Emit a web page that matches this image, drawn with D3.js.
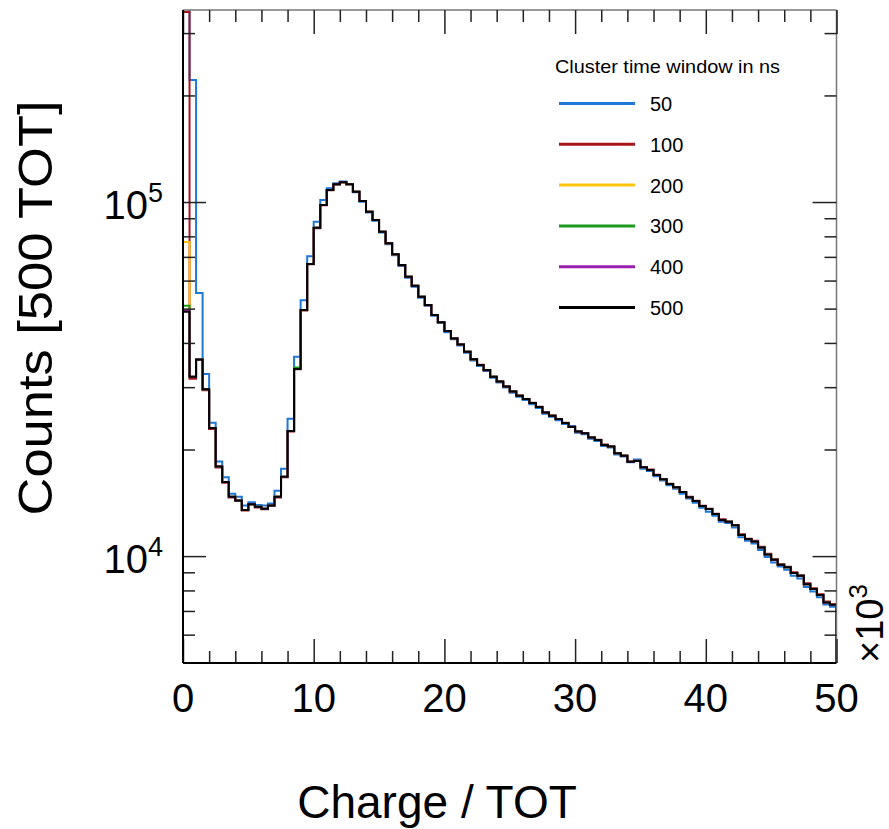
<!DOCTYPE html>
<html lang="en">
<head>
<meta charset="utf-8">
<title>Charge / TOT</title>
<script src="https://d3js.org/d3.v7.min.js"></script>
<style>
  body { margin: 0; background: #fff; }
  text { font-family: "Liberation Sans", Arial, Helvetica, sans-serif; fill: #000; }
</style>
</head>
<body>
<div id="my_dataviz"></div>

<script>
// histogram bins: 100 bins of 0.5 (x10^3 TOT) from 0 to 50
const binWidth = 0.5;
const windows = ["50", "100", "200", "300", "400", "500"];
const colors = ["#1f77d6", "#a8141c", "#fec40a", "#1b9a1f", "#9b1fae", "#000000"];

const counts50 = [400000, 221000, 55300, 32700, 23800, 18500, 16700, 15000, 14700, 13900,
  14200, 13950, 13900, 14080, 15300, 17640, 24440, 36560, 52800, 70300,
  88000, 101300, 109300, 113000, 114300, 112500, 106600, 100200, 93400, 88500,
  82000, 76000, 70800, 66000, 61100, 57600, 53700, 50900, 47700, 45500,
  42900, 40950, 39350, 37500, 35700, 34400, 33300, 31900, 30900, 29950,
  28950, 28200, 27600, 26850, 26200, 25250, 24750, 24200, 23600, 23300,
  22300, 22100, 21450, 21150, 20450, 20250, 19350, 19100, 18400, 18750,
  17650, 17400, 16800, 16350, 15850, 15500, 15000, 14550, 14150, 13700,
  13350, 13000, 12500, 12400, 12050, 11300, 11050, 10850, 10400, 9950,
  9600, 9350, 9150, 8800, 8650, 8180, 7950, 7650, 7300, 7190];

const counts100 = [344000, 31700, 35800, 29400, 22850, 17800, 16100, 14650, 14300, 13450,
  13980, 13720, 13560, 13850, 14650, 16700, 22500, 33700, 49400, 66700,
  84300, 98000, 108000, 112100, 113700, 112200, 106900, 100600, 93800, 88900,
  82400, 76300, 71100, 66300, 61500, 57900, 54000, 51100, 48000, 45800,
  43200, 41300, 39700, 37800, 36000, 34700, 33500, 32100, 31100, 30100,
  29200, 28400, 27800, 27100, 26400, 25500, 24950, 24400, 23800, 23200,
  22500, 22250, 21650, 21300, 20650, 20400, 19550, 19250, 18500, 18580,
  17850, 17550, 16980, 16500, 16000, 15660, 15180, 14700, 14330, 13880,
  13600, 13180, 12700, 12530, 12250, 11520, 11200, 11050, 10620, 10150,
  9820, 9480, 9330, 9000, 8830, 8380, 8110, 7800, 7440, 7320];

const counts200 = [77100, 32100, 35900, 29600, 23000, 17900, 16200, 14700, 14360, 13500,
  14020, 13780, 13600, 13900, 14700, 16750, 22550, 33740, 49550, 66800,
  84600, 98100, 108100, 112200, 113700, 112200, 106900, 100650, 93900, 88950,
  82460, 76450, 71150, 66380, 61520, 57990, 54000, 51160, 47970, 45750,
  43220, 41200, 39600, 37770, 35960, 34640, 33530, 32120, 31110, 30130,
  29180, 28380, 27780, 27060, 26370, 25450, 24920, 24390, 23760, 23160,
  22470, 22240, 21610, 21290, 20600, 20380, 19510, 19210, 18480, 18560,
  17820, 17510, 16950, 16480, 15980, 15640, 15160, 14670, 14300, 13850,
  13580, 13150, 12650, 12510, 12220, 11480, 11170, 11000, 10580, 10130,
  9770, 9460, 9300, 8960, 8800, 8330, 8080, 7770, 7400, 7290];

const counts300 = [50900, 32100, 35900, 29600, 23000, 17900, 16200, 14700, 14360, 13500,
  14020, 13780, 13600, 13900, 14700, 16750, 22550, 34100, 49550, 66800,
  84600, 98100, 108100, 112200, 113700, 112200, 106900, 100650, 93900, 88950,
  82460, 76450, 71150, 66380, 61520, 57990, 54000, 51160, 47970, 45750,
  43220, 41200, 39600, 37770, 35960, 34640, 33530, 32120, 31110, 30130,
  29180, 28380, 27780, 27060, 26370, 25450, 24920, 24390, 23760, 23160,
  22470, 22240, 21610, 21290, 20600, 20380, 19510, 19210, 18480, 18560,
  17820, 17510, 16950, 16480, 15980, 15640, 15160, 14670, 14300, 13850,
  13580, 13150, 12650, 12510, 12220, 11480, 11170, 11000, 10580, 10100,
  9770, 9460, 9300, 8960, 8800, 8330, 8080, 7770, 7400, 7290];

const counts400 = [49500, 32100, 35900, 29600, 23000, 17900, 16200, 14700, 14360, 13500,
  14020, 13780, 13600, 13900, 14700, 16750, 22550, 33740, 49550, 66800,
  84600, 98100, 108100, 112200, 113700, 112200, 106900, 100650, 93900, 88950,
  82460, 76450, 71150, 66380, 61520, 57990, 54000, 51160, 47970, 45750,
  43220, 41200, 39600, 37770, 35960, 34640, 33530, 32120, 31110, 30130,
  29180, 28380, 27780, 27060, 26370, 25450, 24920, 24390, 23760, 23160,
  22470, 22240, 21610, 21290, 20600, 20380, 19510, 19210, 18480, 18560,
  17820, 17510, 16950, 16480, 15980, 15640, 15160, 14670, 14300, 13850,
  13580, 13150, 12650, 12510, 12220, 11480, 11170, 11000, 10580, 10100,
  9770, 9460, 9300, 8960, 8800, 8330, 8080, 7770, 7400, 7290];

const counts500 = [49000, 32100, 35900, 29600, 23000, 17900, 16200, 14700, 14360, 13500,
  14020, 13780, 13600, 13900, 14700, 16750, 22550, 33740, 49550, 66800,
  84600, 98100, 108100, 112200, 113700, 112200, 106900, 100650, 93900, 88950,
  82460, 76450, 71150, 66380, 61520, 57990, 54000, 51160, 47970, 45750,
  43220, 41200, 39600, 37770, 35960, 34640, 33530, 32120, 31110, 30130,
  29180, 28380, 27780, 27060, 26370, 25450, 24920, 24390, 23760, 23160,
  22470, 22240, 21610, 21290, 20600, 20380, 19510, 19210, 18480, 18560,
  17820, 17510, 16950, 16480, 15980, 15640, 15160, 14670, 14300, 13850,
  13580, 13150, 12650, 12510, 12220, 11480, 11170, 11000, 10580, 10100,
  9770, 9460, 9300, 8960, 8800, 8330, 8080, 7770, 7400, 7290];

const allCounts = [counts50, counts100, counts200, counts300, counts400, counts500];

const xMajor = [0, 10, 20, 30, 40, 50];
const xMinor = [2, 4, 6, 8, 12, 14, 16, 18, 22, 24, 26, 28, 32, 34, 36, 38, 42, 44, 46, 48];
const yMajor = [1e4, 1e5];
const yMajorExp = ["4", "5"];
const yMinor = [6000, 7000, 8000, 9000, 20000, 30000, 40000, 50000, 60000, 70000, 80000, 90000, 200000, 300000];

// set the dimensions and margins of the graph
const margin = {top: 10, right: 52.5, bottom: 166, left: 183},
    width = 889 - margin.left - margin.right,
    height = 829 - margin.top - margin.bottom;

const svg = d3.select("#my_dataviz")
  .append("svg")
    .attr("width", 889)
    .attr("height", 829)
  .append("g")
    .attr("transform", `translate(${margin.left},${margin.top})`);

const x = d3.scaleLinear().domain([0, 50]).range([0, width]);
const y = d3.scaleLog().domain([4990, 348600]).range([height, 0]);

svg.append("clipPath").attr("id", "clip")
  .append("rect").attr("width", width).attr("height", height);

// histograms as step outlines
const line = d3.line()
  .x(d => x(d.x))
  .y(d => y(d.v))
  .curve(d3.curveStepAfter);

allCounts.forEach(function(counts, i) {
  const pts = [{x: 0, v: 1000}];
  counts.forEach((v, j) => pts.push({x: j * binWidth, v: v}));
  pts.push({x: counts.length * binWidth, v: counts[counts.length - 1]});
  pts.push({x: counts.length * binWidth, v: 1000});
  svg.append("path")
    .datum(pts)
    .attr("clip-path", "url(#clip)")
    .attr("fill", "none")
    .attr("stroke", colors[i])
    .attr("stroke-width", 2)
    .attr("d", line);
});

// frame
svg.append("line").attr("x1", 0).attr("x2", width).attr("y1", 0).attr("y2", 0)
  .attr("stroke", "#777").attr("stroke-width", 1.5);
svg.append("line").attr("x1", width).attr("x2", width).attr("y1", 0).attr("y2", height)
  .attr("stroke", "#777").attr("stroke-width", 1.5);

// ticks (inward, mirrored on all sides)
function ticks(axis, tr) {
  const g = svg.append("g").attr("transform", tr).call(axis);
  g.select(".domain").remove();
  g.selectAll(".tick line").attr("stroke", "#222").attr("stroke-width", 1.5);
  g.selectAll(".tick text").remove();
}
ticks(d3.axisBottom(x).tickValues(xMajor).tickSize(-24), `translate(0,${height})`);
ticks(d3.axisBottom(x).tickValues(xMinor).tickSize(-12), `translate(0,${height})`);
ticks(d3.axisTop(x).tickValues(xMajor).tickSize(-24), "translate(0,0)");
ticks(d3.axisTop(x).tickValues(xMinor).tickSize(-12), "translate(0,0)");
ticks(d3.axisLeft(y).tickValues(yMajor).tickSize(-23), "translate(0,0)");
ticks(d3.axisLeft(y).tickValues(yMinor).tickSize(-12), "translate(0,0)");
ticks(d3.axisRight(y).tickValues(yMajor).tickSize(-24), `translate(${width},0)`);
ticks(d3.axisRight(y).tickValues(yMinor).tickSize(-12), `translate(${width},0)`);

svg.append("line").attr("x1", 0).attr("x2", 0).attr("y1", 0).attr("y2", height)
  .attr("stroke", "#000").attr("stroke-width", 2);
svg.append("line").attr("x1", 0).attr("x2", width).attr("y1", height).attr("y2", height)
  .attr("stroke", "#000").attr("stroke-width", 2);

// tick labels
svg.selectAll(".xlab")
  .data(xMajor)
  .join("text")
    .attr("x", d => x(d))
    .attr("y", height + 49)
    .attr("text-anchor", "middle")
    .style("font-size", "40px")
    .text(d => d);

yMajor.forEach(function(v, i) {
  const t = svg.append("text")
    .attr("x", -20)
    .attr("y", y(v) + 17)
    .attr("text-anchor", "end")
    .style("font-size", "40px");
  t.append("tspan").text("10");
  t.append("tspan").attr("dy", -17).style("font-size", "27px").text(yMajorExp[i]);
});

// x10^3 multiplier
const mult = svg.append("text")
  .attr("transform", `translate(${width + 46},${height}) rotate(-90)`)
  .style("font-size", "38px");
mult.append("tspan").text("\u00d710");
mult.append("tspan").attr("dy", -16).style("font-size", "26px").text("3");

// axis titles
svg.append("text")
  .attr("x", 437 - margin.left)
  .attr("y", 818 - margin.top)
  .attr("text-anchor", "middle")
  .style("font-size", "46px")
  .text("Charge / TOT");

svg.append("text")
  .attr("transform", `translate(${52 - margin.left},${308 - margin.top}) rotate(-90)`)
  .attr("text-anchor", "middle")
  .attr("textLength", 415)
  .attr("lengthAdjust", "spacingAndGlyphs")
  .style("font-size", "49px")
  .text("Counts [500 TOT]");

// legend
const legend = svg.append("g").attr("transform", `translate(${555 - margin.left},${73 - margin.top})`);
legend.append("text")
  .attr("x", 0).attr("y", 0)
  .attr("textLength", 225)
  .attr("lengthAdjust", "spacingAndGlyphs")
  .style("font-size", "19px")
  .text("Cluster time window in ns");
windows.forEach(function(w, i) {
  const ly = 30.5 + i * 40.8;
  legend.append("line")
    .attr("x1", 4).attr("x2", 80)
    .attr("y1", ly).attr("y2", ly)
    .attr("stroke", colors[i]).attr("stroke-width", 3);
  legend.append("text")
    .attr("x", 95).attr("y", ly + 7.5)
    .style("font-size", "20px")
    .text(w);
});
</script>
</body>
</html>
